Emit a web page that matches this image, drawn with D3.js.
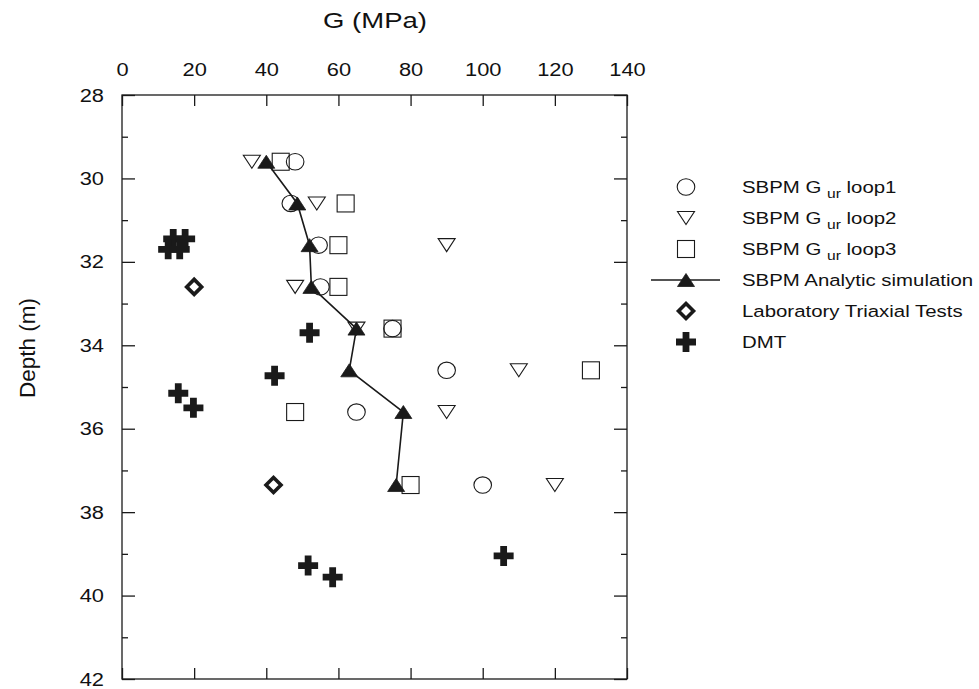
<!DOCTYPE html>
<html lang="en">
<head>
  <meta charset="UTF-8">
  <title>G vs depth</title>
  <script src="https://cdn.jsdelivr.net/npm/d3@7/dist/d3.min.js"></script>
  <style>
    html, body { margin: 0; background: #fff; }
    text { font-family: 'Liberation Sans', Arial, sans-serif; fill: #111; }
  </style>
</head>
<body>
  <script>
    const width = 979
    const height = 689

    // depths of the SBPM tests (m)
    const depths = [29.6, 30.6, 31.6, 32.6, 33.6, 34.6, 35.6, 37.35]
    // G (MPa) per loop
    const loop1 = [48, 46.8, 54.5, 55, 75, 90, 65, 100]
    const loop2 = [36, 54, 90, 48, 65, 110, 90, 120]
    const loop3 = [44, 62, 60, 60, 75, 130, 48, 80]
    const analytic = [40, 48.6, 52, 52.5, 65, 63, 78, 76]

    // laboratory triaxial tests
    const labG = [20, 42]
    const labDepth = [32.6, 37.35]

    // DMT
    const dmtG = [14.2, 17.5, 12.8, 16, 52, 42.3, 15.6, 19.8, 51.6, 58.4, 105.8]
    const dmtDepth = [31.45, 31.45, 31.7, 31.7, 33.7, 34.73, 35.15, 35.5, 39.28, 39.56, 39.05]

    const xTicks = [0, 20, 40, 60, 80, 100, 120, 140]
    const yTicks = [28, 30, 32, 34, 36, 38, 40, 42]
    const yMinor = [29, 31, 33, 35, 37, 39, 41]

    const legendItems = ['loop1', 'loop2', 'loop3', 'Analytic simulation', 'Laboratory Triaxial Tests', 'DMT']

    const margin = { left: 122, top: 95 }
    const plotW = 627 - margin.left
    const plotH = 679 - margin.top

    const svg = d3.select('body').append('svg')
      .attr('width', width)
      .attr('height', height)

    const x = d3.scaleLinear().domain([0, 140]).range([margin.left, margin.left + plotW])
    const y = d3.scaleLinear().domain([28, 42]).range([margin.top, margin.top + plotH])

    const ink = '#1a1a1a'

    // the source figure's lettering is a bit wide; stretch text horizontally around its x
    function stretch(sel, s) {
      sel.each(function () {
        const t = d3.select(this)
        const tx = +(t.attr('x') || 0)
        t.attr('transform', `translate(${tx * (1 - s)},0) scale(${s},1)`)
      })
    }

    // frame
    svg.append('rect')
      .attr('x', x(0)).attr('y', y(28))
      .attr('width', plotW).attr('height', plotH)
      .attr('fill', 'none').attr('stroke', ink).attr('stroke-width', 1.3)

    // axes with inward ticks
    const gTop = svg.append('g').attr('transform', `translate(0,${y(28)})`)
      .call(d3.axisTop(x).tickValues(xTicks).tickSize(-11).tickPadding(19))
    const gBottom = svg.append('g').attr('transform', `translate(0,${y(42)})`)
      .call(d3.axisBottom(x).tickValues(xTicks).tickSize(-11).tickFormat(''))
    const gLeft = svg.append('g').attr('transform', `translate(${x(0)},0)`)
      .call(d3.axisLeft(y).tickValues(yTicks).tickSize(-13).tickPadding(18))
    const gRight = svg.append('g').attr('transform', `translate(${x(140)},0)`)
      .call(d3.axisRight(y).tickValues(yTicks).tickSize(-13).tickFormat(''))
    const gLeftMinor = svg.append('g').attr('transform', `translate(${x(0)},0)`)
      .call(d3.axisLeft(y).tickValues(yMinor).tickSize(-6).tickFormat(''))
    const gRightMinor = svg.append('g').attr('transform', `translate(${x(140)},0)`)
      .call(d3.axisRight(y).tickValues(yMinor).tickSize(-6).tickFormat(''))

    for (const g of [gTop, gBottom, gLeft, gRight, gLeftMinor, gRightMinor]) {
      g.select('.domain').remove()
      g.selectAll('line').attr('stroke', ink).attr('stroke-width', 1.3)
      g.selectAll('text').attr('font-size', 19).attr('fill', ink)
        .style('font-family', "'Liberation Sans', Arial, sans-serif")
      stretch(g.selectAll('text'), 1.15)
    }

    // axis titles
    const xTitle = svg.append('text')
      .attr('x', 375).attr('y', 28)
      .attr('text-anchor', 'middle')
      .attr('font-size', 22)
      .text('G (MPa)')
    stretch(xTitle, 1.25)

    svg.append('text')
      .attr('transform', `translate(35,${348}) rotate(-90)`)
      .attr('text-anchor', 'middle')
      .attr('font-size', 22.5)
      .text('Depth (m)')

    // marker drawers
    const mk = {
      circle: (g, cx, cy) => g.append('ellipse').attr('cx', cx).attr('cy', cy).attr('rx', 8.8).attr('ry', 8.2)
        .attr('fill', 'none').attr('stroke', ink).attr('stroke-width', 1.1),
      triDown: (g, cx, cy) => g.append('path')
        .attr('d', `M${cx - 8.5},${cy - 6.5}L${cx + 8.5},${cy - 6.5}L${cx},${cy + 6.5}Z`)
        .attr('fill', 'none').attr('stroke', ink).attr('stroke-width', 1.1),
      square: (g, cx, cy) => g.append('rect').attr('x', cx - 8.5).attr('y', cy - 8.5).attr('width', 17).attr('height', 17)
        .attr('fill', 'none').attr('stroke', ink).attr('stroke-width', 1.1),
      triUp: (g, cx, cy) => g.append('path')
        .attr('d', `M${cx - 8.5},${cy + 6.5}L${cx + 8.5},${cy + 6.5}L${cx},${cy - 6.5}Z`)
        .attr('fill', ink).attr('stroke', ink).attr('stroke-width', 0.8),
      diamond: (g, cx, cy) => g.append('path')
        .attr('d', `M${cx},${cy - 7.5}L${cx + 7.5},${cy}L${cx},${cy + 7.5}L${cx - 7.5},${cy}Z`)
        .attr('fill', 'none').attr('stroke', ink).attr('stroke-width', 3.6),
      cross: (g, cx, cy) => g.append('path')
        .attr('d', `M${cx - 10},${cy - 3.4}h${6.6}v${-6.6}h6.8v6.6h6.6v6.8h-6.6v6.6h-6.8v-6.6h-6.6Z`)
        .attr('fill', ink)
    }

    const marks = svg.append('g')

    // open symbols for the three loops
    depths.forEach((d, i) => mk.circle(marks, x(loop1[i]), y(d)))
    depths.forEach((d, i) => mk.triDown(marks, x(loop2[i]), y(d)))
    depths.forEach((d, i) => mk.square(marks, x(loop3[i]), y(d)))

    // analytic simulation line + filled triangles
    const line = d3.line().x((d, i) => x(analytic[i])).y(d => y(d))
    marks.append('path').datum(depths)
      .attr('d', line)
      .attr('fill', 'none').attr('stroke', ink).attr('stroke-width', 1.6)
    depths.forEach((d, i) => mk.triUp(marks, x(analytic[i]), y(d)))

    // lab tests
    labG.forEach((v, i) => mk.diamond(marks, x(v), y(labDepth[i])))

    // DMT
    dmtG.forEach((v, i) => mk.cross(marks, x(v), y(dmtDepth[i])))

    // legend
    const legX = 686
    const legTextX = 742
    const legY0 = 187
    const legStep = 31
    const leg = svg.append('g')
    legendItems.forEach((name, i) => {
      const cy = legY0 + i * legStep
      if (i === 0) mk.circle(leg, legX, cy)
      if (i === 1) mk.triDown(leg, legX, cy)
      if (i === 2) mk.square(leg, legX, cy)
      if (i === 3) {
        leg.append('line').attr('x1', legX - 35).attr('x2', legX + 34).attr('y1', cy).attr('y2', cy)
          .attr('stroke', ink).attr('stroke-width', 1.4)
        mk.triUp(leg, legX, cy)
      }
      if (i === 4) mk.diamond(leg, legX, cy)
      if (i === 5) mk.cross(leg, legX, cy)

      const t = leg.append('text')
        .attr('x', legTextX).attr('y', cy + 6)
        .attr('font-size', 17)
      if (i < 3) {
        t.append('tspan').text('SBPM G ')
        t.append('tspan').attr('font-size', 13).attr('dy', 5).text('ur')
        t.append('tspan').attr('dy', -5).text(' ' + name)
      } else if (i === 3) {
        t.text('SBPM ' + name)
      } else {
        t.text(name)
      }
      stretch(t, 1.2)
    })
  </script>
</body>
</html>
